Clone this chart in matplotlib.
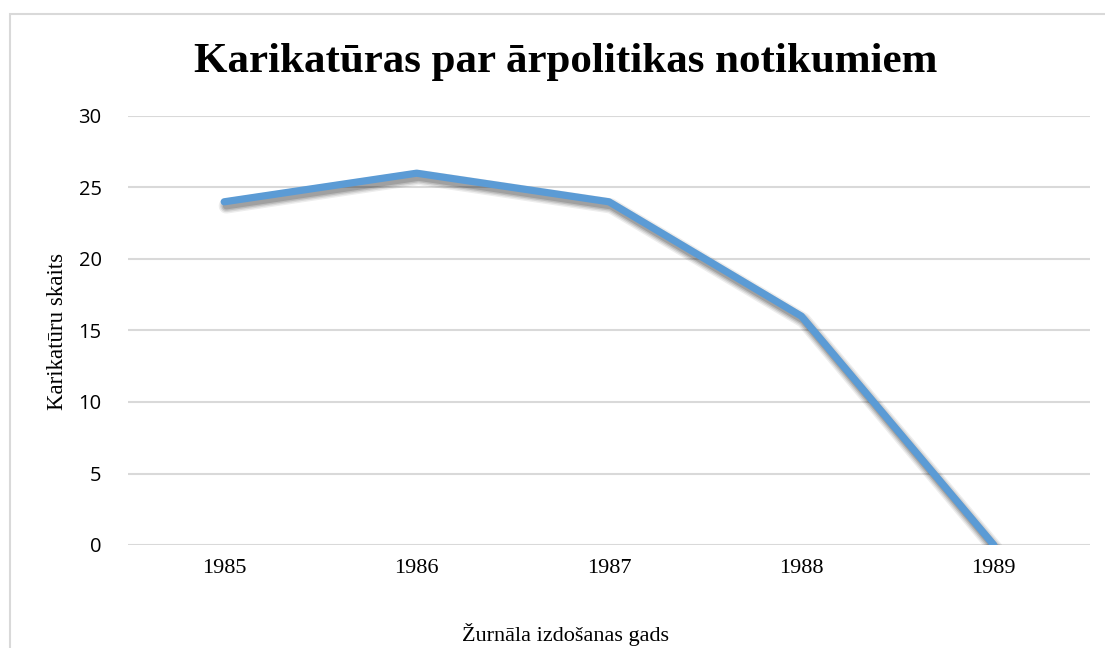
import matplotlib
matplotlib.use("Agg")
import matplotlib.pyplot as plt
import matplotlib.patheffects as pe
from matplotlib.patches import Rectangle

years = ["1985", "1986", "1987", "1988", "1989"]
counts = [24, 26, 24, 16, 0]
yticks = [0, 5, 10, 15, 20, 25, 30]

title = "Karikatūras par ārpolitikas notikumiem"
xlabel = "Žurnāla izdošanas gads"
ylabel = "Karikatūru skaits"

W, H = 1105, 648
fig = plt.figure(figsize=(W / 100, H / 100), dpi=100)
fig.patch.set_facecolor("white")

# outer chart frame
fig.patches.append(Rectangle((10 / W, -0.1), 1.2, 1 - 13.5 / H + 0.1,
                             transform=fig.transFigure, fill=False,
                             edgecolor="#D9D9D9", linewidth=1.5, clip_on=False))

ax = fig.add_axes([128 / W, 1 - 545 / H, (1090 - 128) / W, (545 - 116) / H])
x = list(range(len(years)))
shadow = [pe.SimpleLineShadow(offset=(1.5, -3), shadow_color="black", alpha=a, linewidth=lw)
          for a, lw in [(0.07, 11), (0.09, 9), (0.12, 7), (0.15, 5)]]
ax.plot(x, counts, color="#5B9BD5", linewidth=5.2, solid_capstyle="round",
        solid_joinstyle="round", zorder=3,
        path_effects=shadow + [pe.Normal()])
ax.set_xlim(-0.5, len(years) - 0.5)
ax.set_ylim(0, 30)
ax.set_yticks(yticks)
ax.set_yticklabels([str(v) for v in yticks], fontfamily="Open Sans", fontsize=14.5, color="black")
ax.set_xticks(x)
ax.set_xticklabels(years, fontfamily="Liberation Serif", fontsize=16, color="black")
ax.tick_params(axis="both", length=0)
ax.tick_params(axis="y", pad=19)
ax.tick_params(axis="x", pad=10)
ax.grid(axis="y", color="#D9D9D9", linewidth=1.5)
ax.set_axisbelow(True)
for s in ax.spines.values():
    s.set_visible(False)

fig.text(566 / W, 1 - 62 / H, title, ha="center", va="center",
         fontfamily="Liberation Serif", fontweight="bold", fontsize=31)
fig.text(566 / W, 1 - 635 / H, xlabel, ha="center", va="center",
         fontfamily="Liberation Serif", fontsize=16)
fig.text(58 / W, 1 - 331 / H, ylabel, ha="center", va="center", rotation=90,
         fontfamily="Liberation Serif", fontsize=16.5)

fig.savefig("out.png", dpi=100, facecolor="white")
